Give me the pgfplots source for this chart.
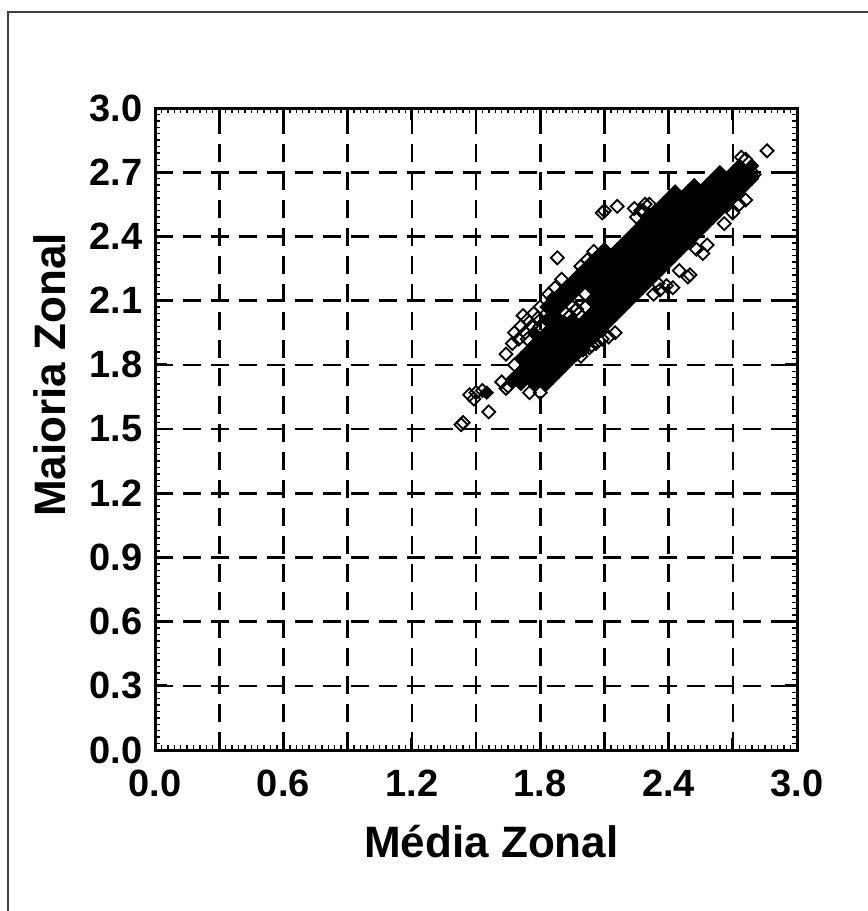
\documentclass[border=0pt]{standalone}
\usepackage{fontspec}
\setmainfont{Liberation Sans}
\usepackage{pgfplots}
\pgfplotsset{compat=1.18}

\begin{document}
\begin{tikzpicture}
\useasboundingbox (0,0) rectangle (434pt,455.5pt);
\draw[line width=1.1pt, black!75] (4pt,0) -- (4pt,449.5pt) -- (434pt,449.5pt);
\begin{axis}[
    at={(77.5pt,80.5pt)}, anchor=south west,
    scale only axis, width=321pt, height=321pt,
    xmin=0, xmax=3, ymin=0, ymax=3,
    xtick={0,0.3,0.6,0.9,1.2,1.5,1.8,2.1,2.4,2.7,3.0},
    ytick={0,0.3,0.6,0.9,1.2,1.5,1.8,2.1,2.4,2.7,3.0},
    xticklabels={0.0,,0.6,,1.2,,1.8,,2.4,,3.0},
    yticklabels={0.0,0.3,0.6,0.9,1.2,1.5,1.8,2.1,2.4,2.7,3.0},
    minor tick num=9,
    tick align=inside,
    major tick length=6pt, minor tick length=2.5pt,
    tick style={black, line width=1.4pt},
    minor tick style={line width=0.7pt},
    axis line style={line width=1.5pt},
    grid=major,
    major grid style={black, line width=1.3pt, dash pattern=on 9pt off 5pt},
    ticklabel style={font=\fontsize{19}{22}\selectfont\bfseries},
    xticklabel style={inner sep=0pt, yshift=-10pt},
    yticklabel style={inner sep=0pt, xshift=-6pt},
    xlabel={Média Zonal}, ylabel={Maioria Zonal},
    label style={font=\fontsize{22}{26}\selectfont\bfseries},
    xlabel style={at={(axis description cs:0.524,-0.168)}, anchor=base},
    ylabel style={at={(axis description cs:-0.164,0.584)}, anchor=center},
]
% dense core, overlapping marks read as solid black
\addplot[only marks, mark=square*, mark size=2.3pt,
    mark options={rotate=45, fill=black, draw=black, line width=0.5pt}] coordinates {
    (1.55,1.67)
    (1.71,1.71) (1.68,1.74)
    (1.77,1.71) (1.74,1.74) (1.71,1.77)
    (1.83,1.71) (1.80,1.74) (1.77,1.77) (1.74,1.80) (1.71,1.83)
    (1.86,1.74) (1.83,1.77) (1.80,1.80) (1.77,1.83) (1.74,1.86)
    (1.89,1.77) (1.86,1.80) (1.83,1.83) (1.80,1.86) (1.77,1.89)
    (1.92,1.80) (1.89,1.83) (1.86,1.86) (1.83,1.89) (1.80,1.92) (1.77,1.95)
    (1.95,1.83) (1.92,1.86) (1.89,1.89) (1.86,1.92) (1.83,1.95)
    (1.98,1.86) (1.95,1.89) (1.92,1.92) (1.89,1.95) (1.86,1.98) (1.83,2.01)
    (2.01,1.89) (1.98,1.92) (1.95,1.95) (1.92,1.98) (1.89,2.01) (1.86,2.04) (1.83,2.07)
    (2.04,1.92) (2.01,1.95) (1.98,1.98) (1.95,2.01) (1.89,2.07) (1.86,2.10)
    (2.07,1.95) (2.04,1.98) (2.01,2.01) (1.92,2.10) (1.89,2.13)
    (2.10,1.98) (2.07,2.01) (2.04,2.04) (1.95,2.13) (1.92,2.16)
    (2.13,2.01) (2.10,2.04) (2.07,2.07) (2.04,2.10) (1.98,2.16) (1.95,2.19)
    (2.16,2.04) (2.13,2.07) (2.10,2.10) (2.07,2.13) (2.04,2.16) (2.01,2.19) (1.98,2.22)
    (2.19,2.07) (2.16,2.10) (2.13,2.13) (2.10,2.16) (2.07,2.19) (2.04,2.22) (2.01,2.25)
    (2.22,2.10) (2.19,2.13) (2.16,2.16) (2.13,2.19) (2.10,2.22) (2.07,2.25) (2.04,2.28)
    (2.25,2.13) (2.22,2.16) (2.19,2.19) (2.16,2.22) (2.13,2.25) (2.10,2.28) (2.07,2.31)
    (2.28,2.16) (2.25,2.19) (2.22,2.22) (2.19,2.25) (2.16,2.28) (2.13,2.31) (2.10,2.34)
    (2.31,2.19) (2.28,2.22) (2.25,2.25) (2.22,2.28) (2.19,2.31) (2.16,2.34)
    (2.34,2.22) (2.31,2.25) (2.28,2.28) (2.25,2.31) (2.22,2.34) (2.19,2.37)
    (2.37,2.25) (2.34,2.28) (2.31,2.31) (2.28,2.34) (2.25,2.37) (2.22,2.40)
    (2.40,2.28) (2.37,2.31) (2.34,2.34) (2.31,2.37) (2.28,2.40) (2.25,2.43)
    (2.43,2.31) (2.40,2.34) (2.37,2.37) (2.34,2.40) (2.31,2.43) (2.28,2.46)
    (2.46,2.34) (2.43,2.37) (2.40,2.40) (2.37,2.43) (2.34,2.46) (2.31,2.49)
    (2.49,2.37) (2.46,2.40) (2.43,2.43) (2.40,2.46) (2.37,2.49) (2.34,2.52)
    (2.52,2.40) (2.49,2.43) (2.46,2.46) (2.43,2.49) (2.40,2.52) (2.37,2.55)
    (2.55,2.43) (2.52,2.46) (2.49,2.49) (2.46,2.52) (2.43,2.55) (2.40,2.58)
    (2.58,2.46) (2.55,2.49) (2.52,2.52) (2.49,2.55) (2.46,2.58) (2.43,2.61)
    (2.61,2.49) (2.58,2.52) (2.55,2.55) (2.52,2.58) (2.49,2.61)
    (2.64,2.52) (2.61,2.55) (2.58,2.58) (2.55,2.61) (2.52,2.64)
    (2.67,2.55) (2.64,2.58) (2.61,2.61) (2.58,2.64)
    (2.70,2.58) (2.67,2.61) (2.64,2.64) (2.61,2.67)
    (2.73,2.61) (2.70,2.64) (2.67,2.67) (2.64,2.70)
    (2.76,2.64) (2.73,2.67) (2.70,2.70)
    (2.79,2.67) (2.76,2.70) (2.73,2.73)
    (2.79,2.73)
};
% scattered points
\addplot[only marks, mark=square, mark size=2.3pt,
    mark options={rotate=45, draw=black, line width=0.9pt}] coordinates {
    (1.43,1.52) (1.44,1.53) (1.56,1.58)
    (1.47,1.66) (1.49,1.64) (1.50,1.67) (1.53,1.68)
    (1.64,1.85) (1.68,1.80) (1.74,1.92) (1.80,1.98)
    (1.62,1.72) (1.65,1.70) (1.67,1.73) (1.64,1.69)
    (1.80,1.67) (1.75,1.67)
    (1.68,1.95) (1.71,1.98) (1.74,2.01) (1.77,2.04) (1.70,1.92) (1.73,1.95)
    (1.76,1.98) (1.79,2.02) (1.72,2.03) (1.67,1.90) (1.80,2.07)
    (1.84,2.13) (1.87,2.16) (1.90,2.20) (1.86,2.11)
    (1.88,2.30)
    (1.99,2.26) (2.02,2.29) (2.05,2.33)
    (1.92,2.04) (1.98,2.04) (1.95,2.07) (2.01,2.07) (1.98,2.10) (2.01,2.13)
    (1.94,2.03) (1.97,2.06)
    (1.97,1.85) (2.00,1.87) (2.03,1.88) (2.04,1.89) (2.06,1.90) (2.09,1.92)
    (2.12,1.93) (2.15,1.95) (2.00,1.90) (2.05,1.93) (1.99,1.84)
    (2.09,2.51) (2.10,2.52) (2.16,2.54)
    (2.25,2.49) (2.27,2.52) (2.29,2.55) (2.31,2.50) (2.24,2.53) (2.28,2.52) (2.31,2.55)
    (2.86,2.80) (2.74,2.77) (2.76,2.76) (2.79,2.68) (2.80,2.69)
    (2.76,2.57) (2.70,2.51) (2.66,2.46) (2.73,2.55)
    (2.56,2.32) (2.58,2.36) (2.53,2.34)
    (2.49,2.21) (2.50,2.22) (2.45,2.24)
    (2.33,2.13) (2.36,2.15) (2.39,2.17) (2.42,2.16) (2.35,2.18)
};
\end{axis}
\end{tikzpicture}
\end{document}
